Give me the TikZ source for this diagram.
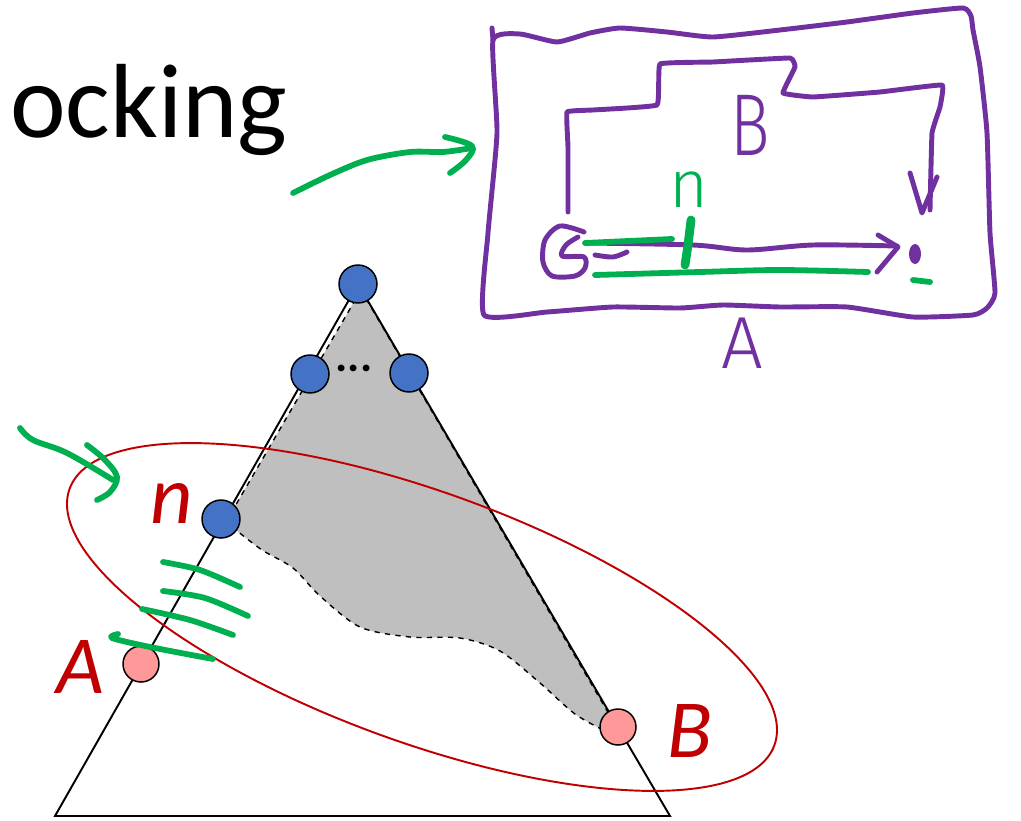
\documentclass[tikz,border=0pt]{standalone}
\usepackage{fontspec}
\setmainfont{Carlito}
\newfontfamily\markerfont{Fira Sans Light}
\usepackage{tikz}
\usetikzlibrary{calc}
\definecolor{nodeblue}{RGB}{68,114,196}
\definecolor{nodepink}{RGB}{255,153,153}
\definecolor{darkred}{RGB}{192,0,0}
\definecolor{pengreen}{RGB}{0,176,80}
\definecolor{penpurple}{RGB}{112,48,160}

\begin{document}
\begin{tikzpicture}[x=0.02cm, y=-0.02cm,
    bluevertex/.style={circle, draw=black, line width=0.85pt, fill=nodeblue, minimum size=0.76cm, inner sep=0pt},
    pinkvertex/.style={circle, draw=black, line width=0.85pt, fill=nodepink, minimum size=0.72cm, inner sep=0pt},
    redlabel/.style={text=darkred, anchor=base, font=\fontsize{47}{50}\selectfont\itshape},
    greenpen/.style={draw=pengreen, line width=3.3pt, line cap=round, line join=round},
    purplepen/.style={draw=penpurple, line width=2.8pt, line cap=round, line join=round}]
    \useasboundingbox (0,0) rectangle (1021,821);

    % Corners of the big triangle
    \coordinate (apex) at (358,284);
    \coordinate (botL) at (55,816);
    \coordinate (botR) at (670,816);

    % Title fragment
    \node[anchor=base west, inner sep=0pt, font=\fontsize{60}{72}\selectfont] (title) at (10,137) {ocking};

    % Grey region, dashed boundary
    \filldraw[fill=black!25, draw=black, dashed, line width=0.8pt]
        (361,290) -- (227,520)
        -- plot[smooth, tension=0.5] coordinates {(236,530) (262,550) (293,568) (320,596) (360,627) (410,637) (460,638) (500,651) (540,683) (575,714) (607,732)}
        -- (613,721) -- cycle;

    % Triangle
    \draw[line width=1.1pt] (botL) -- (apex) -- (botR) -- cycle;

    % Red ellipse
    \draw[darkred, line width=1.1pt, shift={(422,617)}, rotate=-20] (0,0) ellipse (375 and 125);

    % Vertices
    \node[bluevertex] (top) at (apex) {};
    \node[bluevertex] (midL) at (310,374) {};
    \node[bluevertex] (midR) at (409,373) {};
    \node[bluevertex] (vn) at (221,519) {};
    \node[pinkvertex] (vA) at (141,664) {};
    \node[pinkvertex] (vB) at (618,727) {};
    \node[font=\fontsize{26}{28}\selectfont\bfseries] (dots) at (354,368) {...};

    % Labels
    \node[redlabel] (labn) at (172,523) {n};
    \node[redlabel] (labA) at (80,693) {A};
    \node[redlabel] (labB) at (690,757) {B};

    % Green pen marks near the triangle
    \draw[greenpen] plot[smooth, tension=0.6] coordinates {(20,428) (33,440) (67,453) (113,480)};
    \draw[greenpen] plot[smooth, tension=0.6] coordinates {(87,445) (105,460) (117,477) (110,492) (97,500)};
    \draw[greenpen] plot[smooth] coordinates {(163,562) (200,570) (240,587)};
    \draw[greenpen] plot[smooth] coordinates {(163,591) (205,598) (248,616)};
    \draw[greenpen] plot[smooth] coordinates {(142,609) (190,620) (233,635)};
    \draw[greenpen] plot[smooth] coordinates {(118,634) (112,638) (150,647) (213,659)};

    % Green arrow to the sketch
    \coordinate (arrS) at (293,193);
    \coordinate (arrE) at (472,148);
    \draw[greenpen] plot[smooth] coordinates {(arrS) (330,175) (367,160) (410,152) (443,152) (arrE)};
    \draw[greenpen] plot[smooth, tension=0.6] coordinates {(445,137) (472,146) (466,160) (450,173)};

    % Purple sketch: outer box A
    \draw[purplepen] (492,28) -- (493,40);
    \draw[purplepen] plot[smooth cycle, tension=0.3] coordinates {(493,40) (520,34) (557,42) (590,33) (620,28) (667,32) (713,37) (780,30) (847,22) (913,13) (963,8) (971,16) (973,30) (980,67) (987,133) (990,233) (995,293) (987,308) (973,315) (913,317) (847,307) (780,307) (723,305) (680,308) (613,307) (547,312) (484,315) (488,233) (497,133)};
    \node[text=penpurple, anchor=base, font=\markerfont\fontsize{42}{46}\selectfont] (sketchA) at (742,368) {A};

    % Purple sketch: inner region B
    \coordinate (bS) at (568,212);
    \coordinate (bE) at (930,210);
    \draw[purplepen] plot[smooth, tension=0.15] coordinates {(bS) (568,147) (567,112) (593,110) (657,105) (660,64) (713,62) (790,58) (795,67) (783,93) (813,97) (880,92) (942,85) (940,107) (932,133) (bE)};
    \draw[purplepen] (910,173) -- (922,213) -- (937,177);
    \node[text=penpurple, anchor=base, xscale=0.75, font=\markerfont\fontsize{50}{56}\selectfont] (sketchB) at (750,155) {B};

    % Purple sketch: start mark, path and end dot
    \draw[purplepen] plot[smooth, tension=0.5] coordinates {(584,232) (560,226) (545,240) (543,262) (552,276) (575,276) (585,268) (584,257) (562,256) (566,245) (578,237)};
    \coordinate (pS) at (585,243);
    \coordinate (pE) at (897,246);
    \draw[purplepen] plot[smooth] coordinates {(pS) (693,245) (747,250) (813,245) (pE)};
    \draw[purplepen] (878,235) -- (898,247) -- (877,272);
    \draw[purplepen] plot[smooth] coordinates {(595,255) (613,257) (627,252)};
    \fill[penpurple] (915,254) ellipse (6 and 10);

    % Green marks in the sketch
    \draw[greenpen] (pS) -- (672,239);
    \draw[greenpen, line width=5pt] (691,220) -- (688,245) -- (685,265);
    \node[text=pengreen, anchor=base, font=\markerfont\fontsize{38}{40}\selectfont] (sketchn) at (689,207) {n};
    \draw[greenpen] plot[smooth] coordinates {(595,275) (700,272) (780,270) (868,272)};
    \draw[greenpen] (913,280) -- (930,282);
\end{tikzpicture}
\end{document}
